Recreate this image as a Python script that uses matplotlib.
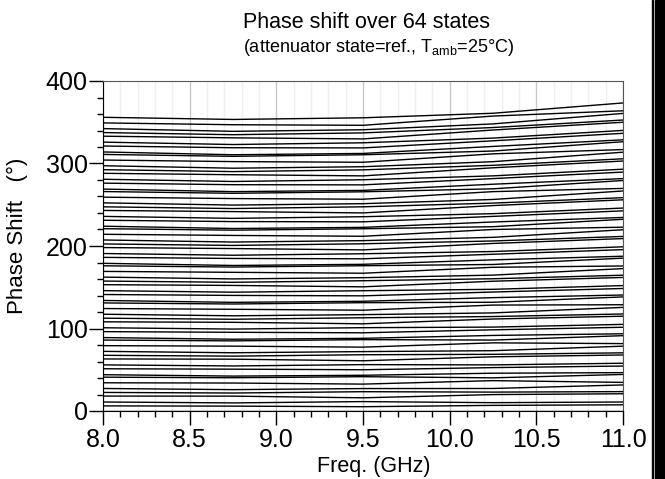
import numpy as np
import matplotlib
matplotlib.use("Agg")
import matplotlib.pyplot as plt
from matplotlib.patches import Rectangle
from matplotlib.ticker import MultipleLocator

plt.rcParams['font.family'] = ['Liberation Sans', 'DejaVu Sans']
plt.rcParams['mathtext.fontset'] = 'custom'
plt.rcParams['mathtext.rm'] = 'Liberation Sans'

freq = [8.0, 8.75, 9.5, 10.25, 11.0]

# phase shift (deg) of the 64 states, one list per frequency point
phase_8p00 = [0.0, 6.2, 10.9, 18.1, 22.5, 27.3, 34.2, 41.0, 44.0, 51.2, 55.9, 63.1, 67.5, 72.3, 79.2, 86.0,
              89.0, 96.2, 100.9, 108.1, 112.5, 117.3, 124.2, 131.0, 134.0, 141.2, 145.9, 153.1, 157.5, 162.3, 169.2, 176.0,
              179.0, 186.2, 190.9, 198.1, 202.5, 207.3, 214.2, 221.0, 224.0, 231.2, 235.9, 243.1, 247.5, 252.3, 259.2, 266.0,
              269.0, 276.2, 280.9, 288.1, 292.5, 297.3, 304.2, 311.0, 314.0, 321.2, 325.9, 333.1, 337.5, 342.3, 349.2, 356.0]
phase_8p75 = [0.0, 5.9, 9.8, 18.0, 21.8, 25.9, 33.9, 40.3, 42.3, 50.7, 54.6, 62.8, 66.5, 70.6, 78.6, 85.0,
              87.0, 95.4, 99.3, 107.5, 111.2, 115.4, 123.3, 129.7, 131.7, 140.1, 144.0, 152.2, 156.0, 160.1, 168.1, 174.5,
              176.4, 184.9, 188.8, 196.9, 200.7, 204.8, 212.8, 219.2, 221.2, 229.6, 233.5, 241.7, 245.4, 249.6, 257.5, 263.9,
              265.9, 274.3, 278.2, 286.4, 290.2, 294.3, 302.3, 308.7, 310.6, 319.1, 323.0, 331.1, 334.9, 339.0, 347.0, 353.4]
phase_9p50 = [0.0, 5.2, 11.4, 16.0, 23.4, 27.2, 32.6, 41.6, 43.3, 50.0, 56.2, 60.9, 68.2, 72.0, 77.4, 86.5,
              88.1, 94.8, 101.0, 105.7, 113.0, 116.8, 122.2, 131.3, 133.0, 139.6, 145.8, 150.5, 157.9, 161.6, 167.0, 176.1,
              177.8, 184.5, 190.6, 195.3, 202.7, 206.5, 211.8, 220.9, 222.6, 229.3, 235.5, 240.1, 247.5, 251.3, 256.7, 265.7,
              267.4, 274.1, 280.3, 285.0, 292.3, 296.1, 301.5, 310.6, 312.2, 318.9, 325.1, 329.8, 337.1, 340.9, 346.3, 355.4]
phase_10p25 = [0.0, 6.8, 10.1, 19.9, 22.9, 27.3, 36.8, 40.2, 45.8, 52.6, 55.9, 65.7, 68.7, 73.1, 82.6, 86.0,
               91.6, 98.4, 101.7, 111.5, 114.5, 118.9, 128.4, 131.8, 137.4, 144.2, 147.5, 157.3, 160.3, 164.7, 174.2, 177.6,
               183.2, 190.0, 193.3, 203.1, 206.1, 210.5, 220.0, 223.4, 229.1, 235.9, 239.2, 249.0, 252.0, 256.4, 265.9, 269.3,
               274.9, 281.7, 285.0, 294.8, 297.8, 302.2, 311.7, 315.1, 320.7, 327.5, 330.8, 340.6, 343.6, 348.0, 357.5, 360.9]
phase_11p00 = [0.0, 7.5, 10.9, 20.9, 23.5, 31.6, 34.7, 44.3, 46.5, 54.5, 57.9, 67.9, 70.5, 78.6, 81.7, 91.3,
               93.6, 101.5, 105.0, 114.9, 117.6, 125.6, 128.8, 138.3, 140.6, 148.5, 152.0, 161.9, 164.6, 172.6, 175.8, 185.3,
               187.6, 195.6, 199.0, 209.0, 211.6, 219.7, 222.8, 232.4, 234.6, 242.6, 246.0, 256.0, 258.6, 266.7, 269.8, 279.4,
               281.7, 289.6, 293.1, 303.0, 305.7, 313.7, 316.9, 326.4, 328.7, 336.6, 340.1, 350.0, 352.7, 360.7, 363.9, 373.4]

xticks = [8.0, 8.5, 9.0, 9.5, 10.0, 10.5, 11.0]
yticks = [0, 100, 200, 300, 400]

phase = np.array([phase_8p00, phase_8p75, phase_9p50, phase_10p25, phase_11p00])

fig = plt.figure(figsize=(6.65, 4.79), dpi=100)
ax = fig.add_axes([103/665, 1-411/479, 520/665, 330/479])

for k in range(phase.shape[1]):
    ax.plot(freq, phase[:, k], color='black', lw=1.0)

ax.set_xlim(8.0, 11.0)
ax.set_ylim(0, 400)
ax.set_xticks(xticks)
ax.set_xticklabels(['%.1f' % x for x in xticks])
ax.set_yticks(yticks)
ax.xaxis.set_minor_locator(MultipleLocator(0.1))
ax.yaxis.set_minor_locator(MultipleLocator(20))
ax.tick_params(which='major', direction='out', length=10, width=1, labelsize=18, pad=1)
ax.tick_params(which='minor', direction='out', length=4, width=1)
ax.tick_params(axis='x', which='major', pad=2)

ax.grid(True, which='major', axis='x', color='#c8c8c8', lw=1)
ax.grid(True, which='minor', axis='x', color='#efefef', lw=1)
ax.set_axisbelow(True)

ax.spines['top'].set_color('#555555')
ax.spines['right'].set_color('#555555')

ax.set_xlabel('Freq. (GHz)', fontsize=15.5, va='top')
ax.xaxis.set_label_coords(0.521, -0.135)
ax.set_ylabel('Phase Shift   (°)', fontsize=16)
ax.yaxis.set_label_coords(-0.145, 0.53)

fig.text(0.551, 0.954, 'Phase shift over 64 states', ha='center', va='center', fontsize=15.5)
fig.text(0.570, 0.900, r'(attenuator state=ref., T$_{\mathrm{amb}}$=25°C)', ha='center', va='center', fontsize=13)

# dark frame strip on the right edge
fig.add_artist(Rectangle((652/665, 0), 1.2/665, 1, transform=fig.transFigure, color='black'))
fig.add_artist(Rectangle((655/665, 0), 10/665, 1, transform=fig.transFigure, color='black'))

fig.savefig('out.png', dpi=100)
